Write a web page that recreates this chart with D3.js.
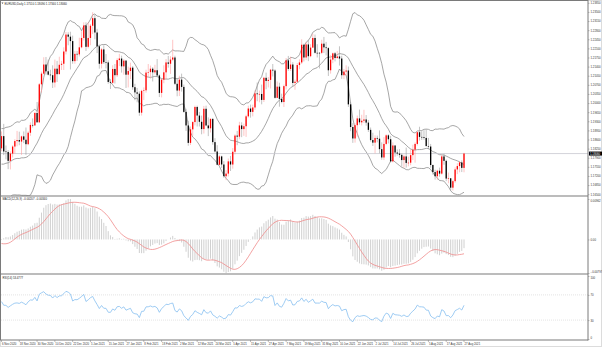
<!DOCTYPE html>
<html>
<head>
<meta charset="utf-8">
<script src="https://cdn.jsdelivr.net/npm/d3@7"></script>
<style>
  body { margin: 0; background: #fff; }
  text { font-family: "Liberation Sans", Arial, sans-serif; }
</style>
</head>
<body>
<svg id="chart" width="602" height="347"></svg>
<script>
// EURUSD daily, 6 Nov 2020 .. 27 Aug 2021
// closes before the first visible bar, only used to warm up the indicators
const warmupCloses = [1.1913,1.1855,1.1850,1.1838,1.1818,1.1778,1.1800,1.1814,1.1845,1.1862,1.1844,1.1814,1.1850,1.1838,1.1771,1.1705,1.1657,1.1671,1.1631,1.1667,1.1745,1.1721,1.1747,1.1715,1.1782,1.1734,1.1761,1.1759,1.1825,1.1813,1.1744,1.1746,1.1706,1.1717,1.1768,1.1821,1.1862,1.1816,1.1860,1.1812,1.1795,1.1746,1.1675,1.1647,1.1642,1.1716,1.1722,1.1826];

const opens = [1.1826,1.1873,1.1814,1.1812,1.1778,1.1806,1.1833,1.1854,1.1858,1.1852,1.1872,1.1859,1.1842,1.1886,1.1916,1.1914,1.1962,
  1.1926,1.2072,1.2113,1.2148,1.2122,1.2109,1.2107,1.2079,1.2132,1.2111,1.2147,1.2151,1.2198,1.2263,1.2255,1.2238,1.2161,1.2189,1.2187,1.2214,1.2250,1.2298,
  1.2216,1.2250,1.2297,1.2326,1.2271,1.2218,1.2151,1.2206,1.2157,1.2156,1.2081,1.2078,1.2131,1.2107,1.2165,1.2171,1.2141,1.2163,1.2109,1.2123,
  1.2136,1.2061,1.2041,1.2036,1.1963,1.2047,1.2049,1.2117,1.2119,1.2132,1.2118,1.2126,1.2106,1.2039,1.2090,1.2118,1.2156,1.2151,1.2167,1.2175,
  1.2074,1.2048,1.2090,1.2062,1.1966,1.1914,1.1847,1.1899,1.1927,1.1985,1.1952,1.1928,1.1900,1.1978,1.1914,1.1903,1.1939,1.1850,1.1814,1.1763,1.1795,1.1764,1.1719,
  1.1729,1.1776,1.1764,1.1813,1.1875,1.1871,1.1914,1.1900,1.1911,1.1949,1.1979,1.1966,1.1983,1.2037,1.2034,1.2035,1.2012,1.2097,1.2085,1.2089,1.2128,1.2125,
  1.2020,1.2063,1.2016,1.2004,1.2065,1.2164,1.2131,1.2148,1.2077,1.2082,1.2146,1.2156,1.2224,1.2175,1.2225,1.2180,1.2213,1.2250,1.2193,1.2193,1.2193,
  1.2228,1.2214,1.2211,1.2126,1.2167,1.2191,1.2173,1.2179,1.2171,1.2107,1.2121,1.2125,1.1995,1.1908,1.1864,1.1915,1.1941,1.1926,1.1932,1.1937,1.1925,1.1897,
  1.1858,1.1848,1.1866,1.1863,1.1823,1.1791,1.1843,1.1876,1.1861,1.1776,1.1837,1.1810,1.1806,1.1801,1.1781,1.1795,1.1770,1.1771,1.1800,1.1821,1.1843,1.1888,
  1.1870,1.1869,1.1866,1.1835,1.1833,1.1762,1.1735,1.1719,1.1740,1.1729,1.1795,1.1778,1.1710,1.1711,1.1675,1.1700,1.1745,1.1758,1.1772,1.1751];

const highs = [1.1891,1.1920,1.1837,1.1819,1.1814,1.1838,1.1861,1.1893,1.1890,1.1875,1.1891,1.1906,1.1892,1.1926,1.1941,1.1965,1.2004,
  1.2077,1.2121,1.2176,1.2177,1.2167,1.2128,1.2145,1.2167,1.2162,1.2178,1.2162,1.2214,1.2273,1.2272,1.2274,1.2259,1.2200,1.2200,1.2251,1.2276,1.2310,1.2310,
  1.2310,1.2304,1.2349,1.2339,1.2285,1.2225,1.2212,1.2222,1.2188,1.2164,1.2092,1.2145,1.2150,1.2172,1.2189,1.2182,1.2169,1.2165,1.2140,1.2155,
  1.2142,1.2074,1.2058,1.2045,1.2051,1.2060,1.2128,1.2150,1.2144,1.2138,1.2147,1.2169,1.2110,1.2093,1.2145,1.2169,1.2181,1.2180,1.2243,1.2182,
  1.2094,1.2105,1.2113,1.2071,1.1978,1.1932,1.1910,1.1931,1.1990,1.1990,1.1966,1.1952,1.1989,1.1990,1.1945,1.1942,1.1943,1.1865,1.1838,1.1800,1.1798,1.1777,1.1742,
  1.1787,1.1797,1.1827,1.1880,1.1893,1.1928,1.1926,1.1921,1.1955,1.1990,1.1994,1.1994,1.2049,1.2079,1.2048,1.2071,1.2101,1.2117,1.2100,1.2131,1.2150,1.2130,
  1.2083,1.2078,1.2036,1.2071,1.2173,1.2181,1.2178,1.2157,1.2090,1.2154,1.2168,1.2245,1.2228,1.2235,1.2242,1.2226,1.2266,1.2263,1.2226,1.2196,1.2243,
  1.2254,1.2235,1.2215,1.2184,1.2194,1.2196,1.2200,1.2218,1.2182,1.2131,1.2145,1.2140,1.2004,1.1923,1.1922,1.1952,1.1975,1.1955,1.1974,1.1954,1.1935,1.1906,
  1.1886,1.1876,1.1875,1.1895,1.1849,1.1869,1.1880,1.1880,1.1874,1.1849,1.1838,1.1822,1.1823,1.1806,1.1802,1.1829,1.1794,1.1822,1.1840,1.1849,1.1892,1.1909,
  1.1892,1.1896,1.1899,1.1866,1.1843,1.1764,1.1744,1.1744,1.1752,1.1801,1.1805,1.1783,1.1733,1.1712,1.1705,1.1753,1.1769,1.1776,1.1780,1.1809];

const lows = [1.1815,1.1800,1.1784,1.1746,1.1745,1.1791,1.1806,1.1834,1.1838,1.1801,1.1846,1.1801,1.1838,1.1874,1.1906,1.1913,1.1925,
  1.1923,1.2040,1.2110,1.2109,1.2106,1.2088,1.2058,1.2060,1.2081,1.2110,1.2127,1.2127,1.2187,1.2222,1.2129,1.2151,1.2151,1.2162,1.2179,1.2210,1.2240,1.2200,
  1.2210,1.2222,1.2265,1.2245,1.2192,1.2132,1.2133,1.2150,1.2133,1.2074,1.2054,1.2074,1.2075,1.2100,1.2142,1.2117,1.2109,1.2058,1.2060,1.2092,
  1.2051,1.2011,1.2003,1.1951,1.1952,1.2012,1.2040,1.2100,1.2094,1.2083,1.2110,1.2100,1.2023,1.2022,1.2076,1.2091,1.2136,1.2112,1.2161,1.2069,
  1.2026,1.2027,1.2044,1.1963,1.1893,1.1836,1.1839,1.1875,1.1914,1.1910,1.1910,1.1880,1.1883,1.1911,1.1873,1.1887,1.1840,1.1810,1.1761,1.1760,1.1751,1.1713,1.1704,
  1.1718,1.1739,1.1748,1.1803,1.1838,1.1861,1.1869,1.1874,1.1870,1.1944,1.1944,1.1949,1.1974,1.2007,1.2003,1.1995,1.2004,1.2053,1.2060,1.2056,1.2102,1.2017,
  1.2019,1.1986,1.1999,1.1985,1.2052,1.2124,1.2123,1.2064,1.2051,1.2077,1.2130,1.2150,1.2160,1.2165,1.2161,1.2176,1.2212,1.2190,1.2175,1.2133,1.2188,
  1.2192,1.2183,1.2104,1.2113,1.2153,1.2160,1.2170,1.2144,1.2093,1.2092,1.2104,1.1985,1.1892,1.1847,1.1848,1.1871,1.1917,1.1914,1.1923,1.1913,1.1889,1.1852,
  1.1835,1.1807,1.1849,1.1807,1.1782,1.1781,1.1838,1.1845,1.1772,1.1772,1.1794,1.1798,1.1790,1.1756,1.1752,1.1752,1.1757,1.1761,1.1781,1.1771,1.1837,1.1856,
  1.1858,1.1859,1.1832,1.1822,1.1752,1.1725,1.1706,1.1705,1.1717,1.1725,1.1763,1.1700,1.1692,1.1664,1.1664,1.1694,1.1727,1.1734,1.1735,1.1734];

const closes = [1.1873,1.1814,1.1812,1.1778,1.1806,1.1833,1.1854,1.1858,1.1852,1.1872,1.1859,1.1842,1.1886,1.1916,1.1914,1.1962,1.1926,
  1.2072,1.2113,1.2148,1.2122,1.2109,1.2107,1.2079,1.2132,1.2111,1.2147,1.2151,1.2198,1.2263,1.2255,1.2238,1.2161,1.2189,1.2187,1.2214,1.2250,1.2298,1.2216,
  1.2250,1.2297,1.2326,1.2271,1.2218,1.2151,1.2206,1.2157,1.2156,1.2081,1.2078,1.2131,1.2107,1.2165,1.2171,1.2141,1.2163,1.2109,1.2123,1.2136,
  1.2061,1.2041,1.2036,1.1963,1.2047,1.2049,1.2117,1.2119,1.2132,1.2118,1.2126,1.2106,1.2039,1.2090,1.2118,1.2156,1.2151,1.2167,1.2175,1.2074,
  1.2048,1.2090,1.2062,1.1966,1.1914,1.1847,1.1899,1.1927,1.1985,1.1952,1.1928,1.1900,1.1978,1.1914,1.1903,1.1939,1.1850,1.1814,1.1763,1.1795,1.1764,1.1719,1.1729,
  1.1776,1.1764,1.1813,1.1875,1.1871,1.1914,1.1900,1.1911,1.1949,1.1979,1.1966,1.1983,1.2037,1.2034,1.2035,1.2012,1.2097,1.2085,1.2089,1.2128,1.2125,1.2020,
  1.2063,1.2016,1.2004,1.2065,1.2164,1.2131,1.2148,1.2077,1.2082,1.2146,1.2156,1.2224,1.2175,1.2225,1.2180,1.2213,1.2250,1.2193,1.2193,1.2193,1.2228,
  1.2214,1.2211,1.2126,1.2167,1.2191,1.2173,1.2179,1.2171,1.2107,1.2121,1.2125,1.1995,1.1908,1.1864,1.1915,1.1941,1.1926,1.1932,1.1937,1.1925,1.1897,1.1858,
  1.1848,1.1866,1.1863,1.1823,1.1791,1.1843,1.1876,1.1861,1.1776,1.1837,1.1810,1.1806,1.1801,1.1781,1.1795,1.1770,1.1771,1.1800,1.1821,1.1843,1.1888,1.1870,
  1.1869,1.1866,1.1835,1.1833,1.1762,1.1735,1.1719,1.1740,1.1729,1.1795,1.1778,1.1710,1.1711,1.1675,1.1700,1.1745,1.1758,1.1772,1.1751,1.1806];

// one date label every 8 bars
const dateLabels = ["6 Nov 2020","18 Nov 2020","30 Nov 2020","10 Dec 2020","22 Dec 2020","5 Jan 2021","15 Jan 2021","27 Jan 2021",
  "8 Feb 2021","18 Feb 2021","2 Mar 2021","12 Mar 2021","24 Mar 2021","5 Apr 2021","15 Apr 2021","27 Apr 2021","7 May 2021",
  "19 May 2021","31 May 2021","10 Jun 2021","22 Jun 2021","2 Jul 2021","14 Jul 2021","26 Jul 2021","5 Aug 2021","17 Aug 2021","27 Aug 2021"];
const priceTicks = [1.23850,1.23500,1.23150,1.22800,1.22450,1.22100,1.21750,1.21400,1.21050,1.20700,1.20350,1.20000,
  1.19650,1.19300,1.18950,1.18600,1.18250,1.17900,1.17550,1.17200,1.16850,1.16500];
const rsiTicks = [100, 70, 30, 0];
const rsiLevels = [70, 30];

// ---- indicators (computed from the closes) ----
const allCloses = warmupCloses.concat(closes);
const off = warmupCloses.length;

function ema(period) {
  const k = 2 / (period + 1);
  let e = allCloses[0];
  return allCloses.map((c, i) => (e = i === 0 ? c : c * k + e * (1 - k)));
}
const ema12 = ema(12), ema26 = ema(26);
const macd = allCloses.map((c, i) => ema12[i] - ema26[i]);
const signal = macd.map((m, i) => i < 8 ? null : d3.mean(macd.slice(i - 8, i + 1)));

const bands = allCloses.map((c, i) => {
  if (i < 19) return null;
  const win = allCloses.slice(i - 19, i + 1);
  const m = d3.mean(win);
  const sd = Math.sqrt(d3.mean(win, v => (v - m) * (v - m)));
  return {mid: m, up: m + 2 * sd, lo: m - 2 * sd};
});

// RSI(14), Wilder smoothing
const rsi = new Array(allCloses.length).fill(null);
let ag = 0, al = 0;
for (let i = 1; i < allCloses.length; i++) {
  const ch = allCloses[i] - allCloses[i - 1];
  const g = Math.max(ch, 0), l = Math.max(-ch, 0);
  if (i <= 14) { ag += g / 14; al += l / 14; }
  else { ag = (ag * 13 + g) / 14; al = (al * 13 + l) / 14; }
  if (i >= 14) rsi[i] = al === 0 ? 100 : 100 - 100 / (1 + ag / al);
}

const bars = closes.map((c, i) => ({
  i: i, o: opens[i], h: highs[i], l: lows[i], c: c,
  band: bands[i + off], macd: macd[i + off], sig: signal[i + off], rsi: rsi[i + off]
}));

// ---- layout ----
const plotL = 1, plotR = 588;
const mainTop = 1, mainBot = 196;
const macdTop = 197, macdBot = 274;
const rsiTop = 276, rsiBot = 339;

const svg = d3.select("#chart");
const x = d3.scaleLinear().domain([0, closes.length - 1]).range([1.5, 464]);
const y = d3.scaleLinear().domain([1.1643, 1.2392]).range([mainBot, mainTop]);

const macdLo = d3.min(bars, d => Math.min(d.macd, d.sig));
const macdHi = d3.max(bars, d => Math.max(d.macd, d.sig));
const ym = d3.scaleLinear().domain([macdLo, macdHi]).range([macdBot - 1, macdTop + 2]);
const yr = d3.scaleLinear().domain([0, 100]).range([rsiBot, rsiTop]);

const defs = svg.append("defs");
[["clipMain", mainTop, mainBot], ["clipMacd", macdTop, macdBot], ["clipRsi", rsiTop, rsiBot]].forEach(c => {
  defs.append("clipPath").attr("id", c[0]).append("rect")
    .attr("x", plotL).attr("y", c[1]).attr("width", plotR - plotL).attr("height", c[2] - c[1]);
});

// outer frame
svg.append("rect").attr("x", 0.5).attr("y", 0.5).attr("width", 601).attr("height", 346)
  .attr("fill", "#fff").attr("stroke", "#dcdcdc");

// ---- main panel ----
const gMain = svg.append("g").attr("clip-path", "url(#clipMain)");
const bandLine = key => d3.line().x(d => x(d.i)).y(d => y(d.band[key]));
["up", "mid", "lo"].forEach(k => {
  gMain.append("path").datum(bars).attr("d", bandLine(k))
    .attr("fill", "none").attr("stroke", "#808080").attr("stroke-width", 0.7);
});

// current price line
const last = bars[bars.length - 1];
gMain.append("line").attr("x1", plotL).attr("x2", plotR)
  .attr("y1", y(last.c)).attr("y2", y(last.c))
  .attr("stroke", "#c8c8d0").attr("stroke-width", 0.8);

const candles = gMain.append("g").selectAll("g").data(bars).join("g");
candles.append("line")
  .attr("x1", d => x(d.i)).attr("x2", d => x(d.i))
  .attr("y1", d => y(d.h)).attr("y2", d => y(d.l))
  .attr("stroke", d => d.c > d.o ? "#ff9c9c" : "#9a9a9a")
  .attr("stroke-width", 0.6);
candles.append("rect")
  .attr("x", d => x(d.i) - 0.65).attr("width", 1.3)
  .attr("y", d => y(Math.max(d.o, d.c)))
  .attr("height", d => Math.max(0.6, Math.abs(y(d.o) - y(d.c))))
  .attr("fill", d => d.c > d.o ? "#ff0000" : "#000");

// ---- MACD panel ----
const gMacd = svg.append("g").attr("clip-path", "url(#clipMacd)");
gMacd.append("g").selectAll("line").data(bars).join("line")
  .attr("x1", d => x(d.i)).attr("x2", d => x(d.i))
  .attr("y1", ym(0)).attr("y2", d => ym(d.macd))
  .attr("stroke", "#c4c4c4").attr("stroke-width", 0.8);
gMacd.append("path").datum(bars)
  .attr("d", d3.line().x(d => x(d.i)).y(d => ym(d.sig)))
  .attr("fill", "none").attr("stroke", "#f08a8a").attr("stroke-width", 0.8);

// ---- RSI panel ----
const gRsi = svg.append("g").attr("clip-path", "url(#clipRsi)");
gRsi.selectAll("line.lvl").data(rsiLevels).join("line").attr("class", "lvl")
  .attr("x1", plotL).attr("x2", plotR).attr("y1", d => yr(d)).attr("y2", d => yr(d))
  .attr("stroke", "#c8c8c8").attr("stroke-width", 0.5).attr("stroke-dasharray", "1,1");
gRsi.append("path").datum(bars)
  .attr("d", d3.line().x(d => x(d.i)).y(d => yr(d.rsi)))
  .attr("fill", "none").attr("stroke", "#86bff0").attr("stroke-width", 0.8);

// ---- frames and separators ----
const frame = svg.append("g").attr("stroke", "#7a7a7a").attr("fill", "none");
frame.append("line").attr("x1", 0.5).attr("x2", 0.5).attr("y1", 0).attr("y2", 340);
frame.append("line").attr("x1", 0).attr("x2", plotR).attr("y1", 0.5).attr("y2", 0.5);
frame.append("line").attr("x1", plotR).attr("x2", plotR).attr("y1", 0).attr("y2", 340.5);
[mainBot, macdBot, 340].forEach(v => {
  frame.append("line").attr("x1", 0).attr("x2", plotR).attr("y1", v).attr("y2", v).attr("stroke-width", 1.2);
});

// ---- right axes ----
const fs = 2.8;
function rightAxis(scale, ticks, fmt) {
  const g = svg.append("g").attr("transform", `translate(${plotR},0)`);
  g.call(d3.axisRight(scale).tickValues(ticks).tickFormat(fmt).tickSize(1.5).tickPadding(1));
  g.select(".domain").remove();
  g.selectAll("line").attr("stroke", "#7a7a7a").attr("stroke-width", 0.5);
  g.selectAll("text").attr("font-size", fs).attr("fill", "#333").attr("font-family", "Liberation Sans, Arial, sans-serif");
  return g;
}
rightAxis(y, priceTicks, d3.format(".5f"));
const macdAxis = rightAxis(ym, [macdHi, 0, macdLo], v => v === 0 ? "0.00" : d3.format(".5f")(v));
macdAxis.selectAll("text").attr("dy", (d, i) => i === 0 ? "0.9em" : i === 2 ? "-0.1em" : "0.32em");
const rsiAxis = rightAxis(yr, rsiTicks, d3.format("d"));
rsiAxis.selectAll("text").attr("dy", (d) => d === 100 ? "0.9em" : d === 0 ? "-0.1em" : "0.32em");

// price box
svg.append("rect").attr("x", plotR + 1).attr("y", y(last.c) - 2).attr("width", 13).attr("height", 4).attr("fill", "#000");
svg.append("text").attr("x", plotR + 2).attr("y", y(last.c) + 1).attr("font-size", fs).attr("fill", "#fff")
  .text(d3.format(".5f")(last.c));

// ---- date axis ----
const gDate = svg.append("g");
gDate.selectAll("line").data(dateLabels).join("line")
  .attr("x1", (d, k) => x(k * 8)).attr("x2", (d, k) => x(k * 8))
  .attr("y1", 340).attr("y2", 342).attr("stroke", "#7a7a7a").attr("stroke-width", 0.5);
gDate.selectAll("text").data(dateLabels).join("text")
  .attr("x", (d, k) => x(k * 8) + 0.5).attr("y", 345)
  .attr("font-size", fs).attr("fill", "#333").text(d => d);

// ---- titles ----
const f5 = d3.format(".5f");
svg.append("path").attr("d", "M1.5,2.5 L3.5,2.5 L2.5,4 Z").attr("fill", "#555");
svg.append("text").attr("x", 4.5).attr("y", 4.6).attr("font-size", fs).attr("fill", "#222")
  .text(`EURUSD,Daily  ${f5(last.o)} ${f5(last.h)} ${f5(last.l)} ${f5(last.c)}`);
svg.append("text").attr("x", 2.5).attr("y", macdTop + 3.2).attr("font-size", fs).attr("fill", "#222")
  .text(`MACD(12,26,9) ${f5(last.macd)} ${f5(last.sig)}`);
svg.append("text").attr("x", 2.5).attr("y", rsiTop + 2.8).attr("font-size", fs).attr("fill", "#222")
  .text(`RSI(14) ${d3.format(".4f")(last.rsi)}`);
</script>
</body>
</html>
